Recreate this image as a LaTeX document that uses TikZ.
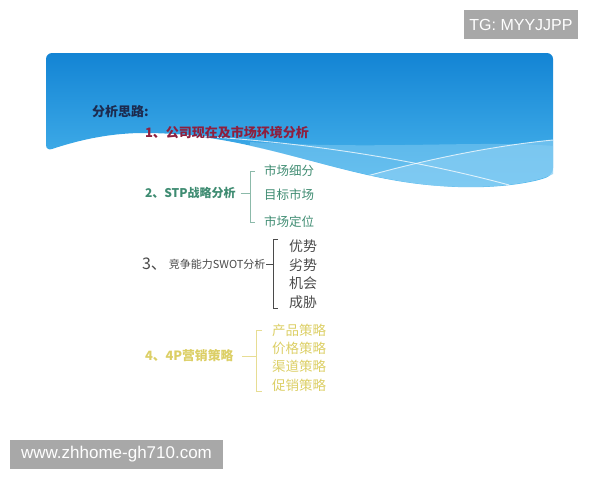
\documentclass[tikz,border=0pt]{standalone}
\usepackage{fontspec}
\setsansfont{Liberation Sans}
\newfontfamily\cjk{Noto Sans CJK SC}
\usepackage{tikz}
\usepackage{xcolor}
\usetikzlibrary{positioning}

\definecolor{bandtop}{HTML}{1384D4}
\definecolor{bandbot}{HTML}{4DB8EE}
\definecolor{bandlight}{HTML}{8DD0F4}
\definecolor{navy}{HTML}{1C2A4E}
\definecolor{maroon}{HTML}{8E1F3E}
\definecolor{stpgreen}{HTML}{3F8C72}
\definecolor{swotgray}{HTML}{4A4A4A}
\definecolor{fourp}{HTML}{DCCF66}
\definecolor{markgray}{HTML}{A8A8A8}

\begin{document}
\begin{tikzpicture}[x=1pt, y=-1pt, inner sep=0pt, outer sep=0pt,
    txt/.style={anchor=west, font=\cjk\fontsize{12}{12}\selectfont},
    sub2/.style={txt, text=stpgreen, font=\cjk\fontsize{12.5}{13}\selectfont},
    sub3/.style={txt, text=swotgray, font=\cjk\fontsize{14}{14}\selectfont},
    sub4/.style={txt, text=fourp, font=\cjk\fontsize{13.5}{14}\selectfont},
    brace/.style={line width=0.8pt},
    wmark/.style={fill=markgray, text=white, font=\sffamily\fontsize{16}{16}\selectfont,
        inner xsep=5pt, minimum height=29pt}]

    \useasboundingbox (0,0) rectangle (600,480);

    % blue band with the white wave
    \path[rounded corners=6pt, top color=bandtop, bottom color=bandbot]
        (46,151) .. controls (85,138) and (115,133) .. (150,133)
        .. controls (260,136) and (340,178) .. (440,186)
        .. controls (500,190) and (540,181) .. (553,174)
        -- (553,53) -- (46,53) -- cycle;
    \begin{scope}
        \clip (46,151) .. controls (85,138) and (115,133) .. (150,133)
            .. controls (260,136) and (340,178) .. (440,186)
            .. controls (500,190) and (540,181) .. (553,174)
            -- (553,53) -- (46,53) -- cycle;
        \fill[bandlight, opacity=0.45] (250,142) .. controls (380,150) and (480,140) .. (553,146)
            -- (553,200) -- (250,200) -- cycle;
        \fill[bandlight, opacity=0.6] (360,178) .. controls (430,158) and (500,145) .. (553,140)
            -- (553,200) -- (360,200) -- cycle;
        \draw[white, opacity=0.75, line width=0.9pt]
            (160,134) .. controls (300,140) and (420,160) .. (520,188);
        \draw[white, opacity=0.75, line width=0.9pt]
            (360,178) .. controls (430,158) and (500,145) .. (553,140);
    \end{scope}

    % heading and first item
    \node[txt, text=navy, font=\cjk\bfseries\fontsize{13}{13}\selectfont] (head) at (92,112) {分析思路:};
    \node[txt, text=maroon, font=\cjk\bfseries\fontsize{13}{13}\selectfont] (s1) at (145,133) {1、公司现在及市场环境分析};

    % STP
    \node[sub2, font=\cjk\bfseries\fontsize{12}{12}\selectfont] (s2) at (145,193) {2、STP战略分析};
    \node[sub2] (c21) at (264,171) {市场细分};
    \node[sub2] (c22) [below=24pt of c21.west, anchor=west] {目标市场};
    \node[sub2] (c23) [below=27pt of c22.west, anchor=west] {市场定位};
    \coordinate (b2) at (250,193);
    \draw[brace, stpgreen!60] (s2.east) ++(5,0) -- (b2);
    \draw[brace, stpgreen!60] ([xshift=-9pt]c21.west) -- (c21.west -| b2)
        -- (c23.west -| b2) -- ([xshift=-9pt]c23.west);

    % SWOT
    \node[txt, text=swotgray, font=\cjk\fontsize{16}{16}\selectfont] (n3) at (142,264) {3、};
    \node[txt, text=swotgray, font=\cjk\fontsize{11}{11}\selectfont] (s3) [right=2pt of n3.east, anchor=west] {竞争能力SWOT分析};
    \node[sub3] (c31) at (289,246) {优势};
    \node[sub3] (c32) [below=18.7pt of c31.west, anchor=west] {劣势};
    \node[sub3] (c33) [below=18.7pt of c32.west, anchor=west] {机会};
    \node[sub3] (c34) [below=18.7pt of c33.west, anchor=west] {成胁};
    \coordinate (b3) at (273,264);
    \draw[brace, swotgray] (s3.east) ++(1,0) -- (b3);
    \draw[brace, swotgray] ([xshift=-11pt]c31.north west) -- (c31.north west -| b3)
        -- (c34.south west -| b3) -- ([xshift=-11pt]c34.south west);

    % 4P
    \node[txt, text=fourp, font=\cjk\bfseries\fontsize{12.8}{13}\selectfont] (s4) at (145,356) {4、4P营销策略};
    \node[sub4] (c41) at (272,330) {产品策略};
    \node[sub4] (c42) [below=18.3pt of c41.west, anchor=west] {价格策略};
    \node[sub4] (c43) [below=18.3pt of c42.west, anchor=west] {渠道策略};
    \node[sub4] (c44) [below=18.3pt of c43.west, anchor=west] {促销策略};
    \coordinate (b4) at (256,356);
    \draw[brace, fourp!70] (s4.east) ++(9,0) -- (b4);
    \draw[brace, fourp!70] ([xshift=-10pt]c41.west) -- (c41.west -| b4)
        -- (c44.south west -| b4) -- ([xshift=-10pt]c44.south west);

    % watermarks
    \node[wmark] (tg) at (521,24.5) {TG: MYYJJPP};
    \node[wmark, font=\sffamily\fontsize{17}{17}\selectfont, minimum width=213pt] (url) at (116.5,454.5) {www.zhhome-gh710.com};

\end{tikzpicture}
\end{document}
